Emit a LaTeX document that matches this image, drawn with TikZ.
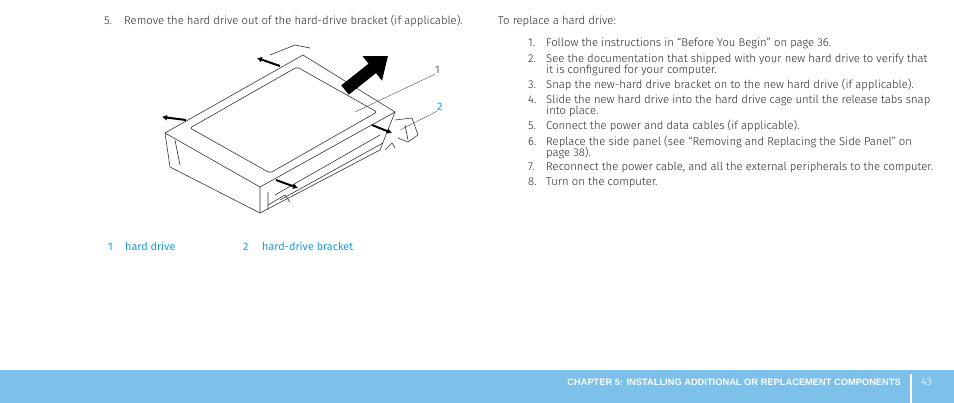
\documentclass[tikz,border=0pt]{standalone}
\usepackage{fontspec}
\setmainfont{Fira Sans Light}[BoldFont=Fira Sans SemiBold]
\newfontfamily\footfont{Liberation Sans}
\newfontfamily\legfont{Fira Sans}
\usetikzlibrary{arrows.meta}
\begin{document}
\begin{tikzpicture}[x=1pt,y=-1pt,
  txt/.style={anchor=base west,inner sep=0,font=\fontsize{11.3}{12}\selectfont,text=black!85},
  leg/.style={txt,font=\legfont\fontsize{10.8}{12}\selectfont,text={rgb,255:red,30;green,155;blue,215}},
  ln/.style={draw=black!80,line width=0.6pt,line join=round},
  arr/.style={-{Latex[length=5pt,width=6pt]},line width=2pt,black}]
\useasboundingbox (0,0) rectangle (954,403);
% left text
\node[txt] (s5n) at (104,25) {5.};
\node[txt] (s5) at (124,25) {Remove the hard drive out of the hard-drive bracket (if applicable).};
% drive
\draw[ln] (165,133) -- (303,55) -- (395,112) -- (260,187) -- cycle;
\draw[ln] (165,133) -- (170,167) -- (260,213) -- (260,187);
\draw[ln] (260,213) -- (380,150) -- (395,112);
\draw[ln,rounded corners=2pt] (190,128) -- (297,67) -- (377,112) -- (270,173) -- cycle;
\draw[ln] (175,140) -- (180,165);
\draw[ln] (268,192) -- (268,210) (275,195) -- (380,135) (280,200) -- (383,143);
\draw[ln] (268,205) -- (285,195) -- (290,202);
\draw[ln] (270,55) -- (295,45) -- (310,48);
\draw[ln] (395,120) -- (412,118) -- (418,135) -- (408,142) -- (398,138);
\draw[ln] (405,125) -- (408,140);
\draw[ln] (385,150) -- (392,143) -- (395,148);
% arrows
\coordinate (ba0) at (345,90); \coordinate (ba1) at (388,56);
\draw[-{Triangle[length=20pt,width=30pt]},line width=12pt] (ba0) -- (ba1);
\coordinate (a1s) at (280,66); \coordinate (a1e) at (257,58);
\coordinate (a2s) at (186,120); \coordinate (a2e) at (162,117);
\coordinate (a3s) at (372,125); \coordinate (a3e) at (392,133);
\coordinate (a4s) at (276,180); \coordinate (a4e) at (298,188);
\draw[arr] (a1s) -- (a1e);
\draw[arr] (a2s) -- (a2e);
\draw[arr] (a3s) -- (a3e);
\draw[arr] (a4s) -- (a4e);
% callouts
\node[leg,text=black!60] (c1) at (435,74) {1};
\node[leg] (c2) at (437,111) {2};
\coordinate (p1) at (355,112); \coordinate (p2) at (400,130);
\draw[black!70,line width=0.4pt] (p1) -- (c1.south west);
\draw[black!70,line width=0.4pt] (p2) -- (c2.south west);
% legend
\node[leg] (l1n) at (108,251) {1};
\node[leg] (l1) at (125,251) {hard drive};
\node[leg] (l2n) at (243,251) {2};
\node[leg] (l2) at (262,251) {hard-drive bracket};
% right text
\node[txt] (h) at (498,25) {To replace a hard drive:};
\foreach \n/\y/\t in {1./47/{Follow the instructions in “Before You Begin” on page 36.},
 2./63/{See the documentation that shipped with your new hard drive to verify that},
 /74/{it is configured for your computer.},
 3./89/{Snap the new-hard drive bracket on to the new hard drive (if applicable).},
 4./104/{Slide the new hard drive into the hard drive cage until the release tabs snap},
 /115/{into place.},
 5./130/{Connect the power and data cables (if applicable).},
 6./146/{Replace the side panel (see “Removing and Replacing the Side Panel” on},
 /157/{page 38).},
 7./171/{Reconnect the power cable, and all the external peripherals to the computer.},
 8./186/{Turn on the computer.}}
 {\node[txt] at (528,\y) {\n}; \node[txt] at (546,\y) {\t};}
% footer
\fill[fill={rgb,255:red,125;green,192;blue,234}] (0,370) rectangle (954,403);
\node[anchor=base east,inner sep=0,text=white,font=\footfont\bfseries\fontsize{9.3}{10}\selectfont] (ft) at (901,386) {CHAPTER 5: INSTALLING ADDITIONAL OR REPLACEMENT COMPONENTS};
\draw[white,line width=1.2pt] (911,374) -- (911,403);
\node[anchor=base west,inner sep=0,text=white,font=\fontsize{11}{12}\selectfont] (pg) at (921,386) {43};
\end{tikzpicture}
\end{document}
